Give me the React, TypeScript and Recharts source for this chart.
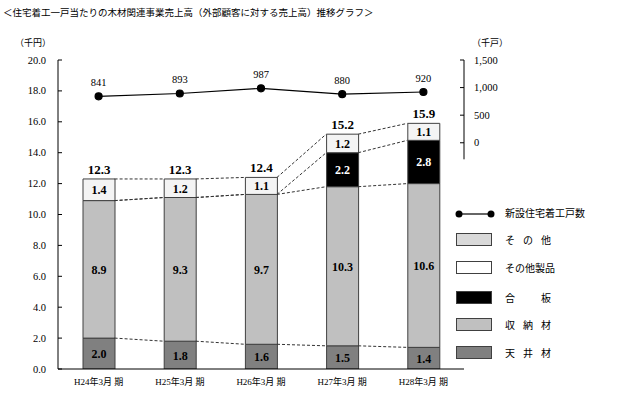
import React from 'react';
import {
  ComposedChart,
  Bar,
  Line,
  XAxis,
  YAxis,
  LabelList,
  ReferenceLine,
} from 'recharts';

const categories = ['H24年3月 期', 'H25年3月 期', 'H26年3月 期', 'H27年3月 期', 'H28年3月 期'];
const tenjo = [2.0, 1.8, 1.6, 1.5, 1.4];
const shuno = [8.9, 9.3, 9.7, 10.3, 10.6];
const goban = [0, 0, 0, 2.2, 2.8];
const sonotaSeihin = [1.4, 1.2, 1.1, 1.2, 1.1];
const sonota = [0, 0, 0, 0, 0];
const totals = [12.3, 12.3, 12.4, 15.2, 15.9];
const housingStarts = [841, 893, 987, 880, 920];

const leftTicks = [0, 2, 4, 6, 8, 10, 12, 14, 16, 18, 20];
const rightTicks = [0, 500, 1000, 1500];

const data = categories.map((name, i) => ({
  name,
  tenjo: tenjo[i],
  shuno: shuno[i],
  goban: goban[i],
  sonotaSeihin: sonotaSeihin[i],
  sonota: sonota[i],
  total: totals[i],
  starts: housingStarts[i],
}));

// cumulative heights used by the dashed connectors between bars
const levels = data.map((d) => [
  d.tenjo,
  d.tenjo + d.shuno,
  d.tenjo + d.shuno + d.goban,
  d.total,
]);

const FONT = "'Liberation Serif', 'DejaVu Serif', 'Noto Sans CJK JP', serif";
const BAR_SIZE = 32;
const STROKE = '#404040';

const COLORS = {
  sonota: '#d9d9d9',
  sonotaSeihin: '#f4f4f4',
  goban: '#000000',
  shuno: '#c0c0c0',
  tenjo: '#808080',
};

const LeftTick = (props: any) => {
  const { x, y, payload } = props;
  const axisX = x + 12;
  return (
    <g>
      <line x1={axisX} x2={axisX + 4} y1={y} y2={y} stroke="#000" />
      <text x={x} y={y} dy={3.5} textAnchor="end" fontSize={10.5} fontFamily={FONT} fill="#000">
        {Number(payload.value).toFixed(1)}
      </text>
    </g>
  );
};

const RightTick = (props: any) => {
  const { x, y, payload } = props;
  const axisX = x - 10;
  return (
    <g>
      <line x1={axisX - 4} x2={axisX} y1={y} y2={y} stroke="#000" />
      <text x={x} y={y} dy={3.5} textAnchor="start" fontSize={10.5} fontFamily={FONT} fill="#000">
        {Number(payload.value).toLocaleString('en-US')}
      </text>
    </g>
  );
};

const BottomTick = (props: any) => {
  const { x, y, payload } = props;
  return (
    <text x={x} y={y} dy={8} textAnchor="middle" fontSize={9} fontFamily={FONT} fill="#000">
      {payload.value}
    </text>
  );
};

const segmentLabel = (color: string) => (props: any) => {
  const { x, y, width, height, value } = props;
  if (!value) return null;
  return (
    <text
      x={x + width / 2}
      y={y + height / 2}
      dy={4.5}
      textAnchor="middle"
      fontSize={12}
      fontWeight="bold"
      fontFamily={FONT}
      fill={color}
    >
      {Number(value).toFixed(1)}
    </text>
  );
};

const connectorShape = (props: any) => (
  <line
    x1={props.x1 + BAR_SIZE / 2}
    y1={props.y1}
    x2={props.x2 - BAR_SIZE / 2}
    y2={props.y2}
    stroke="#333"
    strokeWidth={1}
    strokeDasharray="3 2"
  />
);

const legendItems = [
  { label: 'その他', color: COLORS.sonota, spread: true },
  { label: 'その他製品', color: '#ffffff', spread: false },
  { label: '合板', color: COLORS.goban, spread: true },
  { label: '収納材', color: COLORS.shuno, spread: true },
  { label: '天井材', color: COLORS.tenjo, spread: true },
];
const legendRowY = [239, 267, 297, 324, 352];

const LegendText = ({ label, spread }: { label: string; spread: boolean }) =>
  spread ? (
    <div style={{ display: 'flex', justifyContent: 'space-between', width: 46 }}>
      {label.split('').map((c, i) => (
        <span key={i}>{c}</span>
      ))}
    </div>
  ) : (
    <span>{label}</span>
  );

const App: React.FC = () => {
  return (
    <div
      style={{
        position: 'absolute',
        left: 0,
        top: 0,
        width: 626,
        height: 405,
        background: '#fff',
        fontFamily: FONT,
        color: '#000',
      }}
    >
      <div style={{ position: 'absolute', left: 3, top: 5, fontSize: 9.5, whiteSpace: 'nowrap' }}>
        ＜住宅着工一戸当たりの木材関連事業売上高（外部顧客に対する売上高）推移グラフ＞
      </div>
      <div style={{ position: 'absolute', left: 15, top: 36, fontSize: 9 }}>（千円）</div>
      <div style={{ position: 'absolute', left: 472, top: 36, fontSize: 9 }}>（千戸）</div>

      <ComposedChart
        width={626}
        height={405}
        data={data}
        margin={{ top: 60, right: 112, bottom: 6, left: 8 }}
      >
        <XAxis
          dataKey="name"
          tick={<BottomTick />}
          tickLine={false}
          tickSize={0}
          tickMargin={8}
          height={30}
          axisLine={{ stroke: '#000' }}
          interval={0}
        />
        <YAxis
          yAxisId="left"
          orientation="left"
          width={50}
          domain={[0, 20]}
          ticks={leftTicks}
          tick={<LeftTick />}
          tickLine={false}
          tickSize={0}
          tickMargin={12}
          axisLine={{ stroke: '#000' }}
          allowDataOverflow
        />
        <YAxis
          yAxisId="right"
          orientation="right"
          width={50}
          domain={[-4100, 1500]}
          ticks={rightTicks}
          tick={<RightTick />}
          tickLine={false}
          tickSize={0}
          tickMargin={10}
          axisLine={false}
          allowDataOverflow
        />

        <ReferenceLine
          yAxisId="right"
          position="end"
          segment={[
            { x: categories[categories.length - 1], y: -300 },
            { x: categories[categories.length - 1], y: 1500 },
          ]}
          stroke="#000"
          ifOverflow="visible"
        />

        {levels.slice(0, -1).map((lv, i) =>
          lv.map((v, k) => (
            <ReferenceLine
              key={`c-${i}-${k}`}
              yAxisId="left"
              segment={[
                { x: categories[i], y: v },
                { x: categories[i + 1], y: levels[i + 1][k] },
              ]}
              ifOverflow="visible"
              shape={connectorShape}
            />
          ))
        )}

        <Bar yAxisId="left" dataKey="tenjo" stackId="a" barSize={BAR_SIZE} fill={COLORS.tenjo} stroke={STROKE} isAnimationActive={false}>
          <LabelList dataKey="tenjo" content={segmentLabel('#000')} />
        </Bar>
        <Bar yAxisId="left" dataKey="shuno" stackId="a" barSize={BAR_SIZE} fill={COLORS.shuno} stroke={STROKE} isAnimationActive={false}>
          <LabelList dataKey="shuno" content={segmentLabel('#000')} />
        </Bar>
        <Bar yAxisId="left" dataKey="goban" stackId="a" barSize={BAR_SIZE} fill={COLORS.goban} stroke={STROKE} isAnimationActive={false}>
          <LabelList dataKey="goban" content={segmentLabel('#fff')} />
        </Bar>
        <Bar yAxisId="left" dataKey="sonotaSeihin" stackId="a" barSize={BAR_SIZE} fill={COLORS.sonotaSeihin} stroke={STROKE} isAnimationActive={false}>
          <LabelList dataKey="sonotaSeihin" content={segmentLabel('#000')} />
          <LabelList
            dataKey="total"
            position="top"
            offset={5}
            formatter={(v: any) => Number(v).toFixed(1)}
            style={{ fontSize: 13, fontWeight: 'bold', fontFamily: FONT, fill: '#000' }}
          />
        </Bar>
        <Bar yAxisId="left" dataKey="sonota" stackId="a" barSize={BAR_SIZE} fill={COLORS.sonota} stroke={STROKE} isAnimationActive={false} />

        <Line
          yAxisId="right"
          dataKey="starts"
          stroke="#000"
          strokeWidth={1.2}
          dot={{ r: 3.5, fill: '#000', stroke: '#000' }}
          activeDot={false}
          isAnimationActive={false}
        >
          <LabelList
            dataKey="starts"
            position="top"
            offset={10}
            style={{ fontSize: 10.5, fontFamily: FONT, fill: '#000' }}
          />
        </Line>
      </ComposedChart>

      {/* legend */}
      <div style={{ position: 'absolute', left: 455, top: 212 - 6, width: 40, height: 12 }}>
        <svg width={40} height={12}>
          <line x1={4} x2={36} y1={6} y2={6} stroke="#000" strokeWidth={1.2} />
          <circle cx={4} cy={6} r={3.5} fill="#000" />
          <circle cx={36} cy={6} r={3.5} fill="#000" />
        </svg>
      </div>
      <div style={{ position: 'absolute', left: 505, top: 212 - 7, fontSize: 10, whiteSpace: 'nowrap' }}>
        新設住宅着工戸数
      </div>
      {legendItems.map((item, i) => (
        <React.Fragment key={item.label}>
          <div
            style={{
              position: 'absolute',
              left: 456,
              top: legendRowY[i] - 6,
              width: 34,
              height: 11,
              background: item.color,
              border: `1px solid ${STROKE}`,
            }}
          />
          <div style={{ position: 'absolute', left: 505, top: legendRowY[i] - 7, fontSize: 10, whiteSpace: 'nowrap' }}>
            <LegendText label={item.label} spread={item.spread} />
          </div>
        </React.Fragment>
      ))}
    </div>
  );
};

export default App;
